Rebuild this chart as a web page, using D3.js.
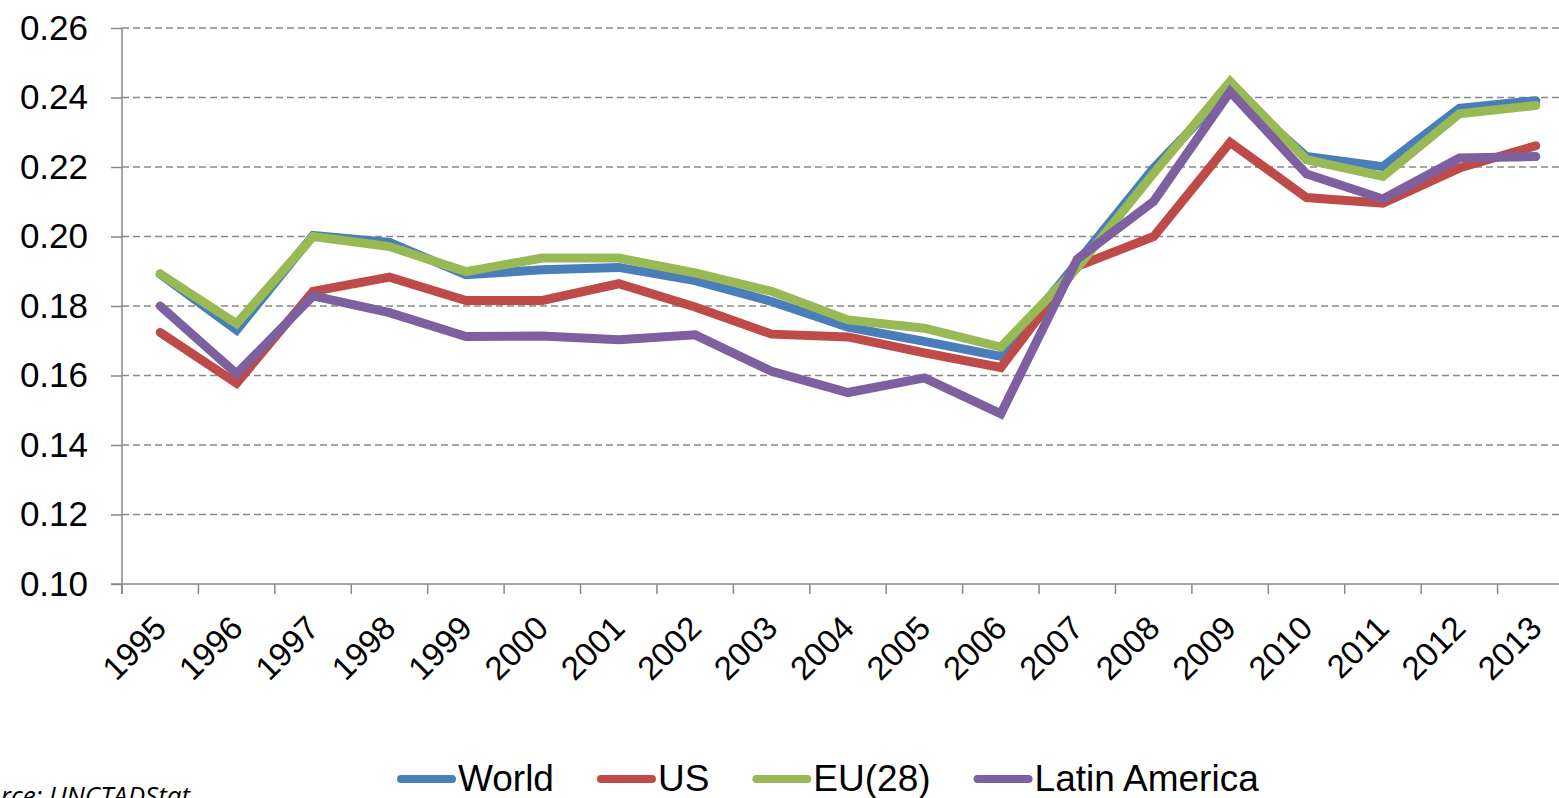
<!DOCTYPE html>
<html>
<head>
<meta charset="utf-8">
<script src="https://cdn.jsdelivr.net/npm/d3@7"></script>
<style>
  html, body { margin: 0; padding: 0; background: #fff; overflow: hidden; }
  svg { display: block; font-family: "Liberation Sans", Arial, sans-serif; }
</style>
</head>
<body>
<div id="chart"></div>
<script>
// data
const years = ['1995','1996','1997','1998','1999','2000','2001','2002','2003','2004',
  '2005','2006','2007','2008','2009','2010','2011','2012','2013'];
const world = [0.1892, 0.1731, 0.2003, 0.1983, 0.1890, 0.1904, 0.1911, 0.1873, 0.1813, 0.1739,
  0.1698, 0.1655, 0.1925, 0.2197, 0.2425, 0.2230, 0.2201, 0.2369, 0.2391];
const us = [0.1724, 0.1578, 0.1842, 0.1883, 0.1816, 0.1816, 0.1864, 0.1797, 0.1719, 0.1711,
  0.1665, 0.1623, 0.1914, 0.2000, 0.2271, 0.2112, 0.2096, 0.2197, 0.2261];
const eu28 = [0.1892, 0.1749, 0.2000, 0.1971, 0.1899, 0.1938, 0.1938, 0.1895, 0.1842, 0.1760,
  0.1736, 0.1682, 0.1910, 0.2182, 0.2446, 0.2221, 0.2173, 0.2353, 0.2377];
const latam = [0.1800, 0.1605, 0.1829, 0.1781, 0.1712, 0.1714, 0.1703, 0.1717, 0.1612, 0.1551,
  0.1593, 0.1490, 0.1935, 0.2101, 0.2417, 0.2180, 0.2108, 0.2226, 0.2230];
const yTicks = [0.10, 0.12, 0.14, 0.16, 0.18, 0.20, 0.22, 0.24, 0.26];
const seriesNames = ['World', 'US', 'EU(28)', 'Latin America'];
const seriesColors = ['#4a7ebb', '#be4b48', '#98b954', '#7d60a0'];
const seriesValues = [world, us, eu28, latam];

const dims = { width: 1559, height: 798 };
const margins = { left: 122, right: -15, top: 28, bottom: 214 };

const svg = d3.select('#chart').append('svg')
  .attr('width', dims.width)
  .attr('height', dims.height);

const x = d3.scaleBand()
  .domain(years)
  .range([margins.left, dims.width - margins.right])
  .padding(0);

const y = d3.scaleLinear()
  .domain([0.10, 0.26])
  .range([dims.height - margins.bottom, margins.top]);

const x0 = margins.left, x1 = dims.width - margins.right;
const yBase = y(0.10);

// dashed gridlines
svg.append('g')
  .selectAll('line')
  .data(yTicks.filter(t => t > 0.10))
  .join('line')
  .attr('x1', x0).attr('x2', x1)
  .attr('y1', d => y(d)).attr('y2', d => y(d))
  .attr('stroke', '#898989')
  .attr('stroke-width', 1.5)
  .attr('stroke-dasharray', '7,4');

// y axis
const yAxis = svg.append('g')
  .attr('transform', `translate(${x0},0)`)
  .call(d3.axisLeft(y).tickValues(yTicks).tickFormat(d3.format('.2f')).tickSize(11).tickPadding(23));
yAxis.select('.domain').remove();
yAxis.selectAll('.tick line').attr('stroke', '#898989').attr('stroke-width', 1.5);
yAxis.selectAll('.tick text')
  .attr('font-size', 35)
  .attr('font-family', '"Liberation Sans", Arial, sans-serif')
  .attr('fill', '#000');

svg.append('line')
  .attr('x1', x0).attr('x2', x0)
  .attr('y1', y(0.26)).attr('y2', yBase + 10)
  .attr('stroke', '#898989').attr('stroke-width', 1.5);

// x axis line + ticks between categories
svg.append('line')
  .attr('x1', x0 - 11).attr('x2', x1)
  .attr('y1', yBase).attr('y2', yBase)
  .attr('stroke', '#898989').attr('stroke-width', 1.5);

const edges = years.map(d => x(d)).concat([x(years[years.length - 1]) + x.bandwidth()]);
svg.append('g')
  .selectAll('line')
  .data(edges)
  .join('line')
  .attr('x1', d => d).attr('x2', d => d)
  .attr('y1', yBase).attr('y2', yBase + 10)
  .attr('stroke', '#898989').attr('stroke-width', 1.5);

svg.append('g')
  .selectAll('text')
  .data(years)
  .join('text')
  .attr('transform', d => `translate(${x(d) + x.bandwidth() / 2 + 8},${yBase + 46}) rotate(-45)`)
  .attr('text-anchor', 'end')
  .attr('font-size', 33)
  .attr('fill', '#000')
  .text(d => d);

// lines
const line = d3.line()
  .x((d, i) => x(years[i]) + x.bandwidth() / 2)
  .y(d => y(d));

svg.append('g')
  .selectAll('path')
  .data(seriesValues)
  .join('path')
  .attr('d', d => line(d))
  .attr('fill', 'none')
  .attr('stroke', (d, i) => seriesColors[i])
  .attr('stroke-width', 9)
  .attr('stroke-linejoin', 'miter')
  .attr('stroke-linecap', 'round');

// legend
const legend = svg.append('g');
let lx = 397;
const ly = 779;
seriesNames.forEach((name, i) => {
  legend.append('line')
    .attr('x1', lx + 4).attr('x2', lx + 55)
    .attr('y1', ly).attr('y2', ly)
    .attr('stroke', seriesColors[i])
    .attr('stroke-width', 8)
    .attr('stroke-linecap', 'round');
  const t = legend.append('text')
    .attr('x', lx + 61)
    .attr('y', ly + 12)
    .attr('font-size', 37)
    .attr('fill', '#000')
    .text(name);
  lx = lx + 61 + t.node().getComputedTextLength() + 43;
});

// source note, cut off at the left edge
svg.append('text')
  .attr('x', 190)
  .attr('y', 805)
  .attr('text-anchor', 'end')
  .attr('font-size', 26)
  .attr('font-style', 'italic')
  .attr('font-family', '"Open Sans", "Liberation Sans", sans-serif')
  .attr('fill', '#000')
  .text('Source: UNCTADStat');
</script>
</body>
</html>
